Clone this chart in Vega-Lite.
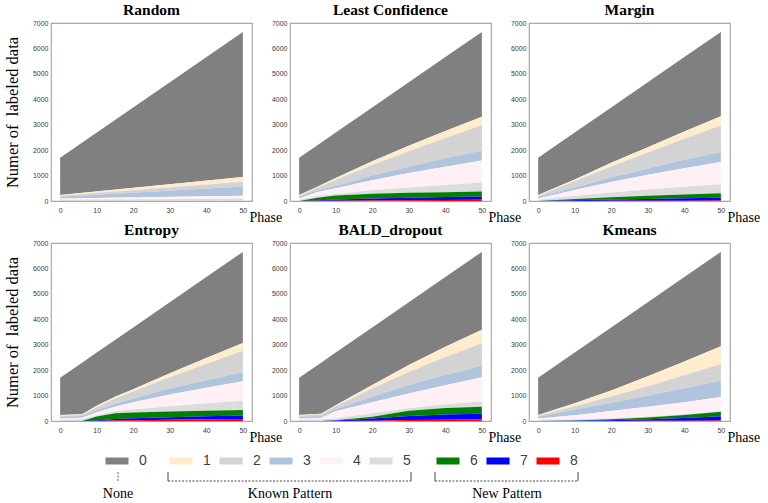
{
  "$schema": "https://vega.github.io/schema/vega-lite/v6.json",
  "padding": {"top": 1, "left": 3, "right": 0, "bottom": 0},
  "background": "white",
  "config": {
    "view": {"stroke": "#a9a9a9", "strokeWidth": 1.2},
    "title": {"font": "Liberation Serif", "fontSize": 15.5, "fontWeight": "bold", "color": "black", "offset": 1},
    "axis": {"labelFont": "Liberation Sans", "labelFontSize": 7, "labelColor": "#3c3c3c", "ticks": false, "domain": false, "grid": false, "titleFont": "Liberation Serif", "titleFontWeight": "normal", "titleColor": "black"},
    "axisX": {"labelPadding": 5, "titleFontSize": 14, "titleX": 198, "titleY": 20.5, "titleAlign": "left", "titleBaseline": "alphabetic"},
    "axisY": {"labelPadding": 3, "titleFontSize": 16.5, "titlePadding": 12, "format": "d"}
  },
  "datasets": {
    "d": [
      {"m":"Random","p":0,"c":0,"v":1460},{"m":"Random","p":0,"c":1,"v":30},{"m":"Random","p":0,"c":2,"v":40},{"m":"Random","p":0,"c":3,"v":70},{"m":"Random","p":0,"c":4,"v":50},{"m":"Random","p":0,"c":5,"v":50},{"m":"Random","p":0,"c":6,"v":0},{"m":"Random","p":0,"c":7,"v":0},{"m":"Random","p":0,"c":8,"v":0},
      {"m":"Random","p":50,"c":0,"v":5710},{"m":"Random","p":50,"c":1,"v":180},{"m":"Random","p":50,"c":2,"v":190},{"m":"Random","p":50,"c":3,"v":360},{"m":"Random","p":50,"c":4,"v":120},{"m":"Random","p":50,"c":5,"v":90},{"m":"Random","p":50,"c":6,"v":0},{"m":"Random","p":50,"c":7,"v":0},{"m":"Random","p":50,"c":8,"v":0},

      {"m":"Least Confidence","p":0,"c":0,"v":1460},{"m":"Least Confidence","p":0,"c":1,"v":30},{"m":"Least Confidence","p":0,"c":2,"v":40},{"m":"Least Confidence","p":0,"c":3,"v":70},{"m":"Least Confidence","p":0,"c":4,"v":50},{"m":"Least Confidence","p":0,"c":5,"v":50},{"m":"Least Confidence","p":0,"c":6,"v":0},{"m":"Least Confidence","p":0,"c":7,"v":0},{"m":"Least Confidence","p":0,"c":8,"v":0},
      {"m":"Least Confidence","p":5,"c":0,"v":1635},{"m":"Least Confidence","p":5,"c":1,"v":40},{"m":"Least Confidence","p":5,"c":2,"v":100},{"m":"Least Confidence","p":5,"c":3,"v":70},{"m":"Least Confidence","p":5,"c":4,"v":150},{"m":"Least Confidence","p":5,"c":5,"v":70},{"m":"Least Confidence","p":5,"c":6,"v":100},{"m":"Least Confidence","p":5,"c":7,"v":25},{"m":"Least Confidence","p":5,"c":8,"v":5},
      {"m":"Least Confidence","p":10,"c":0,"v":1790},{"m":"Least Confidence","p":10,"c":1,"v":70},{"m":"Least Confidence","p":10,"c":2,"v":230},{"m":"Least Confidence","p":10,"c":3,"v":100},{"m":"Least Confidence","p":10,"c":4,"v":220},{"m":"Least Confidence","p":10,"c":5,"v":60},{"m":"Least Confidence","p":10,"c":6,"v":160},{"m":"Least Confidence","p":10,"c":7,"v":50},{"m":"Least Confidence","p":10,"c":8,"v":10},
      {"m":"Least Confidence","p":20,"c":0,"v":2120},{"m":"Least Confidence","p":20,"c":1,"v":140},{"m":"Least Confidence","p":20,"c":2,"v":420},{"m":"Least Confidence","p":20,"c":3,"v":180},{"m":"Least Confidence","p":20,"c":4,"v":400},{"m":"Least Confidence","p":20,"c":5,"v":130},{"m":"Least Confidence","p":20,"c":6,"v":190},{"m":"Least Confidence","p":20,"c":7,"v":80},{"m":"Least Confidence","p":20,"c":8,"v":20},
      {"m":"Least Confidence","p":30,"c":0,"v":2500},{"m":"Least Confidence","p":30,"c":1,"v":210},{"m":"Least Confidence","p":30,"c":2,"v":610},{"m":"Least Confidence","p":30,"c":3,"v":250},{"m":"Least Confidence","p":30,"c":4,"v":570},{"m":"Least Confidence","p":30,"c":5,"v":210},{"m":"Least Confidence","p":30,"c":6,"v":190},{"m":"Least Confidence","p":30,"c":7,"v":100},{"m":"Least Confidence","p":30,"c":8,"v":30},
      {"m":"Least Confidence","p":40,"c":0,"v":2910},{"m":"Least Confidence","p":40,"c":1,"v":270},{"m":"Least Confidence","p":40,"c":2,"v":800},{"m":"Least Confidence","p":40,"c":3,"v":330},{"m":"Least Confidence","p":40,"c":4,"v":720},{"m":"Least Confidence","p":40,"c":5,"v":285},{"m":"Least Confidence","p":40,"c":6,"v":190},{"m":"Least Confidence","p":40,"c":7,"v":115},{"m":"Least Confidence","p":40,"c":8,"v":40},
      {"m":"Least Confidence","p":50,"c":0,"v":3340},{"m":"Least Confidence","p":50,"c":1,"v":330},{"m":"Least Confidence","p":50,"c":2,"v":995},{"m":"Least Confidence","p":50,"c":3,"v":395},{"m":"Least Confidence","p":50,"c":4,"v":860},{"m":"Least Confidence","p":50,"c":5,"v":360},{"m":"Least Confidence","p":50,"c":6,"v":190},{"m":"Least Confidence","p":50,"c":7,"v":130},{"m":"Least Confidence","p":50,"c":8,"v":50},

      {"m":"Margin","p":0,"c":0,"v":1460},{"m":"Margin","p":0,"c":1,"v":30},{"m":"Margin","p":0,"c":2,"v":40},{"m":"Margin","p":0,"c":3,"v":70},{"m":"Margin","p":0,"c":4,"v":50},{"m":"Margin","p":0,"c":5,"v":50},{"m":"Margin","p":0,"c":6,"v":0},{"m":"Margin","p":0,"c":7,"v":0},{"m":"Margin","p":0,"c":8,"v":0},
      {"m":"Margin","p":10,"c":0,"v":1840},{"m":"Margin","p":10,"c":1,"v":70},{"m":"Margin","p":10,"c":2,"v":250},{"m":"Margin","p":10,"c":3,"v":100},{"m":"Margin","p":10,"c":4,"v":230},{"m":"Margin","p":10,"c":5,"v":120},{"m":"Margin","p":10,"c":6,"v":55},{"m":"Margin","p":10,"c":7,"v":22},{"m":"Margin","p":10,"c":8,"v":3},
      {"m":"Margin","p":20,"c":0,"v":2180},{"m":"Margin","p":20,"c":1,"v":140},{"m":"Margin","p":20,"c":2,"v":440},{"m":"Margin","p":20,"c":3,"v":170},{"m":"Margin","p":20,"c":4,"v":420},{"m":"Margin","p":20,"c":5,"v":180},{"m":"Margin","p":20,"c":6,"v":95},{"m":"Margin","p":20,"c":7,"v":49},{"m":"Margin","p":20,"c":8,"v":6},
      {"m":"Margin","p":30,"c":0,"v":2560},{"m":"Margin","p":30,"c":1,"v":200},{"m":"Margin","p":30,"c":2,"v":630},{"m":"Margin","p":30,"c":3,"v":250},{"m":"Margin","p":30,"c":4,"v":580},{"m":"Margin","p":30,"c":5,"v":240},{"m":"Margin","p":30,"c":6,"v":130},{"m":"Margin","p":30,"c":7,"v":71},{"m":"Margin","p":30,"c":8,"v":9},
      {"m":"Margin","p":40,"c":0,"v":2930},{"m":"Margin","p":40,"c":1,"v":280},{"m":"Margin","p":40,"c":2,"v":830},{"m":"Margin","p":40,"c":3,"v":330},{"m":"Margin","p":40,"c":4,"v":730},{"m":"Margin","p":40,"c":5,"v":300},{"m":"Margin","p":40,"c":6,"v":155},{"m":"Margin","p":40,"c":7,"v":93},{"m":"Margin","p":40,"c":8,"v":12},
      {"m":"Margin","p":50,"c":0,"v":3320},{"m":"Margin","p":50,"c":1,"v":360},{"m":"Margin","p":50,"c":2,"v":1040},{"m":"Margin","p":50,"c":3,"v":400},{"m":"Margin","p":50,"c":4,"v":870},{"m":"Margin","p":50,"c":5,"v":360},{"m":"Margin","p":50,"c":6,"v":170},{"m":"Margin","p":50,"c":7,"v":115},{"m":"Margin","p":50,"c":8,"v":15},

      {"m":"Entropy","p":0,"c":0,"v":1460},{"m":"Entropy","p":0,"c":1,"v":30},{"m":"Entropy","p":0,"c":2,"v":40},{"m":"Entropy","p":0,"c":3,"v":70},{"m":"Entropy","p":0,"c":4,"v":50},{"m":"Entropy","p":0,"c":5,"v":50},{"m":"Entropy","p":0,"c":6,"v":0},{"m":"Entropy","p":0,"c":7,"v":0},{"m":"Entropy","p":0,"c":8,"v":0},
      {"m":"Entropy","p":6,"c":0,"v":2024},{"m":"Entropy","p":6,"c":1,"v":30},{"m":"Entropy","p":6,"c":2,"v":45},{"m":"Entropy","p":6,"c":3,"v":70},{"m":"Entropy","p":6,"c":4,"v":60},{"m":"Entropy","p":6,"c":5,"v":65},{"m":"Entropy","p":6,"c":6,"v":0},{"m":"Entropy","p":6,"c":7,"v":0},{"m":"Entropy","p":6,"c":8,"v":0},
      {"m":"Entropy","p":10,"c":0,"v":2090},{"m":"Entropy","p":10,"c":1,"v":60},{"m":"Entropy","p":10,"c":2,"v":120},{"m":"Entropy","p":10,"c":3,"v":80},{"m":"Entropy","p":10,"c":4,"v":120},{"m":"Entropy","p":10,"c":5,"v":40},{"m":"Entropy","p":10,"c":6,"v":160},{"m":"Entropy","p":10,"c":7,"v":20},{"m":"Entropy","p":10,"c":8,"v":0},
      {"m":"Entropy","p":15,"c":0,"v":2235},{"m":"Entropy","p":15,"c":1,"v":70},{"m":"Entropy","p":15,"c":2,"v":200},{"m":"Entropy","p":15,"c":3,"v":120},{"m":"Entropy","p":15,"c":4,"v":180},{"m":"Entropy","p":15,"c":5,"v":80},{"m":"Entropy","p":15,"c":6,"v":220},{"m":"Entropy","p":15,"c":7,"v":60},{"m":"Entropy","p":15,"c":8,"v":20},
      {"m":"Entropy","p":20,"c":0,"v":2430},{"m":"Entropy","p":20,"c":1,"v":90},{"m":"Entropy","p":20,"c":2,"v":280},{"m":"Entropy","p":20,"c":3,"v":140},{"m":"Entropy","p":20,"c":4,"v":290},{"m":"Entropy","p":20,"c":5,"v":120},{"m":"Entropy","p":20,"c":6,"v":220},{"m":"Entropy","p":20,"c":7,"v":80},{"m":"Entropy","p":20,"c":8,"v":30},
      {"m":"Entropy","p":30,"c":0,"v":2790},{"m":"Entropy","p":30,"c":1,"v":160},{"m":"Entropy","p":30,"c":2,"v":440},{"m":"Entropy","p":30,"c":3,"v":240},{"m":"Entropy","p":30,"c":4,"v":460},{"m":"Entropy","p":30,"c":5,"v":210},{"m":"Entropy","p":30,"c":6,"v":220},{"m":"Entropy","p":30,"c":7,"v":100},{"m":"Entropy","p":30,"c":8,"v":50},
      {"m":"Entropy","p":40,"c":0,"v":3180},{"m":"Entropy","p":40,"c":1,"v":240},{"m":"Entropy","p":40,"c":2,"v":640},{"m":"Entropy","p":40,"c":3,"v":290},{"m":"Entropy","p":40,"c":4,"v":610},{"m":"Entropy","p":40,"c":5,"v":300},{"m":"Entropy","p":40,"c":6,"v":210},{"m":"Entropy","p":40,"c":7,"v":125},{"m":"Entropy","p":40,"c":8,"v":65},
      {"m":"Entropy","p":50,"c":0,"v":3580},{"m":"Entropy","p":50,"c":1,"v":310},{"m":"Entropy","p":50,"c":2,"v":840},{"m":"Entropy","p":50,"c":3,"v":360},{"m":"Entropy","p":50,"c":4,"v":760},{"m":"Entropy","p":50,"c":5,"v":370},{"m":"Entropy","p":50,"c":6,"v":210},{"m":"Entropy","p":50,"c":7,"v":140},{"m":"Entropy","p":50,"c":8,"v":80},

      {"m":"BALD_dropout","p":0,"c":0,"v":1460},{"m":"BALD_dropout","p":0,"c":1,"v":30},{"m":"BALD_dropout","p":0,"c":2,"v":40},{"m":"BALD_dropout","p":0,"c":3,"v":70},{"m":"BALD_dropout","p":0,"c":4,"v":50},{"m":"BALD_dropout","p":0,"c":5,"v":50},{"m":"BALD_dropout","p":0,"c":6,"v":0},{"m":"BALD_dropout","p":0,"c":7,"v":0},{"m":"BALD_dropout","p":0,"c":8,"v":0},
      {"m":"BALD_dropout","p":6,"c":0,"v":2004},{"m":"BALD_dropout","p":6,"c":1,"v":35},{"m":"BALD_dropout","p":6,"c":2,"v":55},{"m":"BALD_dropout","p":6,"c":3,"v":70},{"m":"BALD_dropout","p":6,"c":4,"v":70},{"m":"BALD_dropout","p":6,"c":5,"v":60},{"m":"BALD_dropout","p":6,"c":6,"v":0},{"m":"BALD_dropout","p":6,"c":7,"v":0},{"m":"BALD_dropout","p":6,"c":8,"v":0},
      {"m":"BALD_dropout","p":10,"c":0,"v":2070},{"m":"BALD_dropout","p":10,"c":1,"v":40},{"m":"BALD_dropout","p":10,"c":2,"v":110},{"m":"BALD_dropout","p":10,"c":3,"v":90},{"m":"BALD_dropout","p":10,"c":4,"v":280},{"m":"BALD_dropout","p":10,"c":5,"v":70},{"m":"BALD_dropout","p":10,"c":6,"v":10},{"m":"BALD_dropout","p":10,"c":7,"v":20},{"m":"BALD_dropout","p":10,"c":8,"v":0},
      {"m":"BALD_dropout","p":20,"c":0,"v":2260},{"m":"BALD_dropout","p":20,"c":1,"v":140},{"m":"BALD_dropout","p":20,"c":2,"v":330},{"m":"BALD_dropout","p":20,"c":3,"v":210},{"m":"BALD_dropout","p":20,"c":4,"v":440},{"m":"BALD_dropout","p":20,"c":5,"v":130},{"m":"BALD_dropout","p":20,"c":6,"v":70},{"m":"BALD_dropout","p":20,"c":7,"v":90},{"m":"BALD_dropout","p":20,"c":8,"v":10},
      {"m":"BALD_dropout","p":30,"c":0,"v":2470},{"m":"BALD_dropout","p":30,"c":1,"v":270},{"m":"BALD_dropout","p":30,"c":2,"v":510},{"m":"BALD_dropout","p":30,"c":3,"v":340},{"m":"BALD_dropout","p":30,"c":4,"v":580},{"m":"BALD_dropout","p":30,"c":5,"v":100},{"m":"BALD_dropout","p":30,"c":6,"v":200},{"m":"BALD_dropout","p":30,"c":7,"v":165},{"m":"BALD_dropout","p":30,"c":8,"v":35},
      {"m":"BALD_dropout","p":40,"c":0,"v":2740},{"m":"BALD_dropout","p":40,"c":1,"v":400},{"m":"BALD_dropout","p":40,"c":2,"v":710},{"m":"BALD_dropout","p":40,"c":3,"v":400},{"m":"BALD_dropout","p":40,"c":4,"v":750},{"m":"BALD_dropout","p":40,"c":5,"v":150},{"m":"BALD_dropout","p":40,"c":6,"v":255},{"m":"BALD_dropout","p":40,"c":7,"v":205},{"m":"BALD_dropout","p":40,"c":8,"v":50},
      {"m":"BALD_dropout","p":50,"c":0,"v":3060},{"m":"BALD_dropout","p":50,"c":1,"v":530},{"m":"BALD_dropout","p":50,"c":2,"v":890},{"m":"BALD_dropout","p":50,"c":3,"v":450},{"m":"BALD_dropout","p":50,"c":4,"v":950},{"m":"BALD_dropout","p":50,"c":5,"v":210},{"m":"BALD_dropout","p":50,"c":6,"v":275},{"m":"BALD_dropout","p":50,"c":7,"v":225},{"m":"BALD_dropout","p":50,"c":8,"v":60},

      {"m":"Kmeans","p":0,"c":0,"v":1460},{"m":"Kmeans","p":0,"c":1,"v":30},{"m":"Kmeans","p":0,"c":2,"v":40},{"m":"Kmeans","p":0,"c":3,"v":70},{"m":"Kmeans","p":0,"c":4,"v":50},{"m":"Kmeans","p":0,"c":5,"v":50},{"m":"Kmeans","p":0,"c":6,"v":0},{"m":"Kmeans","p":0,"c":7,"v":0},{"m":"Kmeans","p":0,"c":8,"v":0},
      {"m":"Kmeans","p":10,"c":0,"v":1990},{"m":"Kmeans","p":10,"c":1,"v":120},{"m":"Kmeans","p":10,"c":2,"v":130},{"m":"Kmeans","p":10,"c":3,"v":220},{"m":"Kmeans","p":10,"c":4,"v":170},{"m":"Kmeans","p":10,"c":5,"v":40},{"m":"Kmeans","p":10,"c":6,"v":15},{"m":"Kmeans","p":10,"c":7,"v":5},{"m":"Kmeans","p":10,"c":8,"v":0},
      {"m":"Kmeans","p":20,"c":0,"v":2480},{"m":"Kmeans","p":20,"c":1,"v":240},{"m":"Kmeans","p":20,"c":2,"v":240},{"m":"Kmeans","p":20,"c":3,"v":330},{"m":"Kmeans","p":20,"c":4,"v":280},{"m":"Kmeans","p":20,"c":5,"v":40},{"m":"Kmeans","p":20,"c":6,"v":40},{"m":"Kmeans","p":20,"c":7,"v":30},{"m":"Kmeans","p":20,"c":8,"v":0},
      {"m":"Kmeans","p":30,"c":0,"v":2910},{"m":"Kmeans","p":30,"c":1,"v":390},{"m":"Kmeans","p":30,"c":2,"v":370},{"m":"Kmeans","p":30,"c":3,"v":440},{"m":"Kmeans","p":30,"c":4,"v":380},{"m":"Kmeans","p":30,"c":5,"v":40},{"m":"Kmeans","p":30,"c":6,"v":70},{"m":"Kmeans","p":30,"c":7,"v":65},{"m":"Kmeans","p":30,"c":8,"v":5},
      {"m":"Kmeans","p":40,"c":0,"v":3320},{"m":"Kmeans","p":40,"c":1,"v":540},{"m":"Kmeans","p":40,"c":2,"v":510},{"m":"Kmeans","p":40,"c":3,"v":550},{"m":"Kmeans","p":40,"c":4,"v":470},{"m":"Kmeans","p":40,"c":5,"v":30},{"m":"Kmeans","p":40,"c":6,"v":120},{"m":"Kmeans","p":40,"c":7,"v":110},{"m":"Kmeans","p":40,"c":8,"v":10},
      {"m":"Kmeans","p":50,"c":0,"v":3710},{"m":"Kmeans","p":50,"c":1,"v":695},{"m":"Kmeans","p":50,"c":2,"v":655},{"m":"Kmeans","p":50,"c":3,"v":650},{"m":"Kmeans","p":50,"c":4,"v":550},{"m":"Kmeans","p":50,"c":5,"v":30},{"m":"Kmeans","p":50,"c":6,"v":170},{"m":"Kmeans","p":50,"c":7,"v":170},{"m":"Kmeans","p":50,"c":8,"v":20}
    ],
    "cls": [
      {"c":0,"g":"None"},{"c":1,"g":"Known Pattern"},{"c":2,"g":"Known Pattern"},{"c":3,"g":"Known Pattern"},{"c":4,"g":"Known Pattern"},{"c":5,"g":"Known Pattern"},{"c":6,"g":"New Pattern"},{"c":7,"g":"New Pattern"},{"c":8,"g":"New Pattern"}
    ]
  },
  "columns": 3,
  "bounds": "flush",
  "spacing": {"row": 42, "column": 38},
  "concat": [
    {"width": 201, "height": 178, "title": "Random", "data": {"name": "d"}, "transform": [{"filter": {"field": "m", "equal": "Random"}}],
     "mark": {"type": "area", "interpolate": "linear"},
     "encoding": {
       "x": {"field": "p", "type": "quantitative", "scale": {"domain": [-2.5, 52.5], "nice": false, "zero": false}, "axis": {"values": [0,10,20,30,40,50], "title": "Phase"}},
       "y": {"field": "v", "type": "quantitative", "stack": "zero", "scale": {"domain": [0, 7000], "nice": false}, "axis": {"values": [0,1000,2000,3000,4000,5000,6000,7000], "title": "Numer of \u00a0labeled data"}},
       "color": {"field": "c", "type": "nominal", "scale": {"domain": [0,1,2,3,4,5,6,7,8], "range": ["#808080","#FFEBCD","#D3D3D3","#B0C4DE","#FFF0F5","#DCDCDC","#008000","#0000FF","#FF0000"]}, "legend": null},
       "order": {"field": "c", "type": "quantitative", "sort": "descending"}
     }},
    {"width": 201, "height": 178, "title": "Least Confidence", "data": {"name": "d"}, "transform": [{"filter": {"field": "m", "equal": "Least Confidence"}}],
     "mark": {"type": "area", "interpolate": "linear"},
     "encoding": {
       "x": {"field": "p", "type": "quantitative", "scale": {"domain": [-2.5, 52.5], "nice": false, "zero": false}, "axis": {"values": [0,10,20,30,40,50], "title": "Phase"}},
       "y": {"field": "v", "type": "quantitative", "stack": "zero", "scale": {"domain": [0, 7000], "nice": false}, "axis": {"values": [0,1000,2000,3000,4000,5000,6000,7000], "title": null}},
       "color": {"field": "c", "type": "nominal", "scale": {"domain": [0,1,2,3,4,5,6,7,8], "range": ["#808080","#FFEBCD","#D3D3D3","#B0C4DE","#FFF0F5","#DCDCDC","#008000","#0000FF","#FF0000"]}, "legend": null},
       "order": {"field": "c", "type": "quantitative", "sort": "descending"}
     }},
    {"width": 201, "height": 178, "title": "Margin", "data": {"name": "d"}, "transform": [{"filter": {"field": "m", "equal": "Margin"}}],
     "mark": {"type": "area", "interpolate": "linear"},
     "encoding": {
       "x": {"field": "p", "type": "quantitative", "scale": {"domain": [-2.5, 52.5], "nice": false, "zero": false}, "axis": {"values": [0,10,20,30,40,50], "title": "Phase"}},
       "y": {"field": "v", "type": "quantitative", "stack": "zero", "scale": {"domain": [0, 7000], "nice": false}, "axis": {"values": [0,1000,2000,3000,4000,5000,6000,7000], "title": null}},
       "color": {"field": "c", "type": "nominal", "scale": {"domain": [0,1,2,3,4,5,6,7,8], "range": ["#808080","#FFEBCD","#D3D3D3","#B0C4DE","#FFF0F5","#DCDCDC","#008000","#0000FF","#FF0000"]}, "legend": null},
       "order": {"field": "c", "type": "quantitative", "sort": "descending"}
     }},
    {"width": 201, "height": 178, "title": "Entropy", "data": {"name": "d"}, "transform": [{"filter": {"field": "m", "equal": "Entropy"}}],
     "mark": {"type": "area", "interpolate": "linear"},
     "encoding": {
       "x": {"field": "p", "type": "quantitative", "scale": {"domain": [-2.5, 52.5], "nice": false, "zero": false}, "axis": {"values": [0,10,20,30,40,50], "title": "Phase"}},
       "y": {"field": "v", "type": "quantitative", "stack": "zero", "scale": {"domain": [0, 7000], "nice": false}, "axis": {"values": [0,1000,2000,3000,4000,5000,6000,7000], "title": "Numer of \u00a0labeled data"}},
       "color": {"field": "c", "type": "nominal", "scale": {"domain": [0,1,2,3,4,5,6,7,8], "range": ["#808080","#FFEBCD","#D3D3D3","#B0C4DE","#FFF0F5","#DCDCDC","#008000","#0000FF","#FF0000"]}, "legend": null},
       "order": {"field": "c", "type": "quantitative", "sort": "descending"}
     }},
    {"width": 201, "height": 178, "title": "BALD_dropout", "data": {"name": "d"}, "transform": [{"filter": {"field": "m", "equal": "BALD_dropout"}}],
     "mark": {"type": "area", "interpolate": "linear"},
     "encoding": {
       "x": {"field": "p", "type": "quantitative", "scale": {"domain": [-2.5, 52.5], "nice": false, "zero": false}, "axis": {"values": [0,10,20,30,40,50], "title": "Phase"}},
       "y": {"field": "v", "type": "quantitative", "stack": "zero", "scale": {"domain": [0, 7000], "nice": false}, "axis": {"values": [0,1000,2000,3000,4000,5000,6000,7000], "title": null}},
       "color": {"field": "c", "type": "nominal", "scale": {"domain": [0,1,2,3,4,5,6,7,8], "range": ["#808080","#FFEBCD","#D3D3D3","#B0C4DE","#FFF0F5","#DCDCDC","#008000","#0000FF","#FF0000"]}, "legend": null},
       "order": {"field": "c", "type": "quantitative", "sort": "descending"}
     }},
    {"width": 201, "height": 178, "title": "Kmeans", "data": {"name": "d"}, "transform": [{"filter": {"field": "m", "equal": "Kmeans"}}],
     "mark": {"type": "area", "interpolate": "linear"},
     "encoding": {
       "x": {"field": "p", "type": "quantitative", "scale": {"domain": [-2.5, 52.5], "nice": false, "zero": false}, "axis": {"values": [0,10,20,30,40,50], "title": "Phase"}},
       "y": {"field": "v", "type": "quantitative", "stack": "zero", "scale": {"domain": [0, 7000], "nice": false}, "axis": {"values": [0,1000,2000,3000,4000,5000,6000,7000], "title": null}},
       "color": {"field": "c", "type": "nominal", "scale": {"domain": [0,1,2,3,4,5,6,7,8], "range": ["#808080","#FFEBCD","#D3D3D3","#B0C4DE","#FFF0F5","#DCDCDC","#008000","#0000FF","#FF0000"]}, "legend": null},
       "order": {"field": "c", "type": "quantitative", "sort": "descending"}
     }},
    {
      "width": 201,
      "height": 39,
      "view": {"stroke": null},
      "data": {"name": "cls"},
      "layer": [
        {"mark": {"type": "point", "shape": "M-1,-0.3043L1,-0.3043L1,0.3043L-1,0.3043Z", "size": 529, "filled": true, "opacity": 1, "strokeWidth": 0},
         "encoding": {
           "x": {"field": "c", "type": "quantitative", "scale": {"type": "linear", "domain": [0,1,5,6,8], "range": [66,130,330,397,497], "nice": false, "zero": false}, "axis": null},
           "y": {"datum": 41, "type": "quantitative", "scale": {"domain": [0, 39], "nice": false, "zero": false}, "axis": null},
           "color": {"field": "c", "type": "nominal", "scale": {"domain": [0,1,2,3,4,5,6,7,8], "range": ["#808080","#FFEBCD","#D3D3D3","#B0C4DE","#FFF0F5","#DCDCDC","#008000","#0000FF","#FF0000"]}, "legend": null}
         }},
        {"mark": {"type": "text", "align": "left", "baseline": "middle", "dx": 22, "font": "Liberation Sans", "fontSize": 14, "color": "#404040"},
         "encoding": {
           "x": {"field": "c", "type": "quantitative"},
           "y": {"datum": 41, "type": "quantitative"},
           "text": {"field": "c", "type": "nominal"}
         }},
        {"transform": [{"filter": "datum.g !== 'None'"}],
         "mark": {"type": "rule", "strokeDash": [2, 1.5], "color": "#444444", "strokeWidth": 1, "xOffset": -13, "x2Offset": 30},
         "encoding": {
           "x": {"aggregate": "min", "field": "c", "type": "quantitative"},
           "x2": {"aggregate": "max", "field": "c"},
           "y": {"datum": 21, "type": "quantitative"},
           "detail": {"field": "g", "type": "nominal"}
         }},
        {"transform": [{"filter": "datum.g !== 'None'"}],
         "mark": {"type": "rule", "color": "#444444", "strokeWidth": 1, "xOffset": -13},
         "encoding": {
           "x": {"aggregate": "min", "field": "c", "type": "quantitative"},
           "y": {"datum": 21, "type": "quantitative"},
           "y2": {"datum": 30},
           "detail": {"field": "g", "type": "nominal"}
         }},
        {"transform": [{"filter": "datum.g !== 'None'"}],
         "mark": {"type": "rule", "color": "#444444", "strokeWidth": 1, "xOffset": 30},
         "encoding": {
           "x": {"aggregate": "max", "field": "c", "type": "quantitative"},
           "y": {"datum": 21, "type": "quantitative"},
           "y2": {"datum": 30},
           "detail": {"field": "g", "type": "nominal"}
         }},
        {"transform": [{"filter": "datum.g === 'None'"}],
         "mark": {"type": "rule", "color": "#666666", "strokeWidth": 1, "strokeDash": [2, 1.5], "xOffset": 1},
         "encoding": {
           "x": {"field": "c", "type": "quantitative"},
           "y": {"datum": 21, "type": "quantitative"},
           "y2": {"datum": 31}
         }},
        {"transform": [{"filter": "datum.g === 'None'"}],
         "mark": {"type": "text", "baseline": "middle", "align": "center", "font": "Liberation Serif", "fontSize": 14, "color": "black", "dx": 1},
         "encoding": {
           "x": {"field": "c", "type": "quantitative"},
           "y": {"datum": 8, "type": "quantitative"},
           "text": {"field": "g", "type": "nominal"}
         }},
        {"transform": [{"filter": "datum.g !== 'None'"}],
         "mark": {"type": "text", "baseline": "middle", "align": "center", "font": "Liberation Serif", "fontSize": 14, "color": "black", "dx": 9},
         "encoding": {
           "x": {"aggregate": "mean", "field": "c", "type": "quantitative"},
           "y": {"datum": 8, "type": "quantitative"},
           "text": {"field": "g", "type": "nominal"}
         }}
      ]
    }
  ]
}
